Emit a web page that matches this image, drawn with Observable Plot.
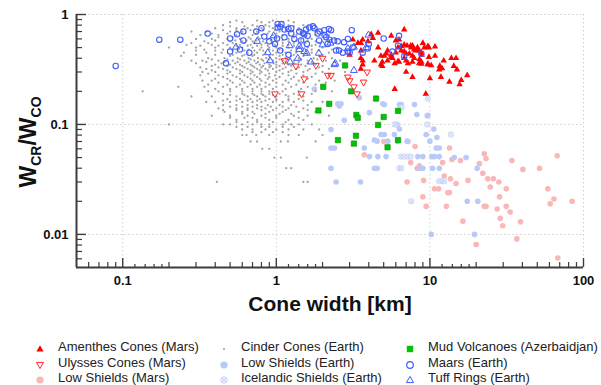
<!DOCTYPE html>
<html><head><meta charset="utf-8">
<script src="https://cdn.jsdelivr.net/npm/d3@7"></script>
<script src="https://cdn.jsdelivr.net/npm/@observablehq/plot@0.6"></script>
<style>
body{margin:0;background:#fff;font-family:"Liberation Sans",Arial,sans-serif;}
#wrap{position:relative;width:601px;height:385px;overflow:hidden;background:#fff;}
.lg{position:absolute;font-size:13px;color:#222;white-space:nowrap;line-height:16px;}
.sym{position:absolute;width:12px;height:12px;}
</style></head><body><div id="wrap"></div>
<script>
// ---------- axes ----------
const xDomain = [0.05, 100];
const yDomain = [0.005, 1];
const xMajor = [0.1, 1, 10, 100];
const xMinor = [0.06,0.07,0.08,0.09,0.2,0.3,0.4,0.5,0.6,0.7,0.8,0.9,2,3,4,5,6,7,8,9,20,30,40,50,60,70,80,90];
const xMinorShort = [0.12,0.14,0.16,0.18,1.2,1.4,1.6,1.8,12,14,16,18];
const yMajor = [0.01, 0.1, 1];
const yMinor = [0.006,0.007,0.008,0.009,0.02,0.03,0.04,0.05,0.06,0.07,0.08,0.09,0.2,0.3,0.4,0.5,0.6,0.7,0.8,0.9];

// ---------- data: [cone width km, Wcr/Wco] ----------
const amenthes = [[3.0,0.43],[3.15,0.59],[3.4,0.55],[3.55,0.55],[3.56,0.47],[3.65,0.59],[3.55,0.40],[3.65,0.35],[3.55,0.32],[3.65,0.38],[3.95,0.57],[4.15,0.66],[4.25,0.61],[4.35,0.38],[4.6,0.50],[4.6,0.68],[4.8,0.42],[4.8,0.35],[4.9,0.34],[4.9,0.37],[5.05,0.42],[5.2,0.44],[5.3,0.47],[5.3,0.38],[5.6,0.64],[5.6,0.43],[5.6,0.41],[5.7,0.40],[5.9,0.36],[5.9,0.21],[6.0,0.58],[6.0,0.45],[6.2,0.50],[6.2,0.375],[6.3,0.59],[6.3,0.37],[6.5,0.47],[6.5,0.515],[6.8,0.73],[6.8,0.53],[6.8,0.46],[6.8,0.40],[7.0,0.44],[7.0,0.38],[7.0,0.30],[7.1,0.52],[7.2,0.36],[7.35,0.44],[7.5,0.52],[7.55,0.50],[7.7,0.52],[7.7,0.42],[7.7,0.37],[7.7,0.27],[7.9,0.48],[7.9,0.40],[8.1,0.47],[8.3,0.50],[8.5,0.47],[8.5,0.36],[8.55,0.39],[8.8,0.45],[8.8,0.37],[8.8,0.356],[8.85,0.43],[9.0,0.55],[9.2,0.50],[9.4,0.19],[9.7,0.515],[9.7,0.356],[9.7,0.35],[9.85,0.50],[9.85,0.41],[10.0,0.262],[10.2,0.344],[10.8,0.51],[10.8,0.42],[11.5,0.316],[11.6,0.34],[11.8,0.27],[12.0,0.323],[12.3,0.38],[13.4,0.244],[13.8,0.40],[14.3,0.34],[14.8,0.40],[15.0,0.316],[15.6,0.231],[16.0,0.253],[17.5,0.28]];

const ulysses = [[0.98,0.19],[1.46,0.19],[1.34,0.34],[1.52,0.26],[1.81,0.345],[2.16,0.28],[2.27,0.28],[2.92,0.27],[3.0,0.25],[3.7,0.243],[3.9,0.30],[2.0,0.40],[3.2,0.22],[3.35,0.19],[1.13,0.38]];

const marsShields = [[13.4,0.061],[12.1,0.045],[13.9,0.048],[15.8,0.047],[12.4,0.034],[13.6,0.032],[10.7,0.026],[11.4,0.026],[13.1,0.024],[13.4,0.024],[14.8,0.029],[17.7,0.031],[12.8,0.018],[16.4,0.0132],[22.6,0.054],[23.2,0.049],[21.0,0.044],[22.1,0.036],[23.8,0.032],[25.9,0.032],[28.1,0.030],[24.7,0.027],[31.4,0.026],[28.4,0.022],[22.6,0.018],[23.2,0.018],[31.4,0.018],[27.4,0.017],[33.3,0.016],[28.7,0.014],[29.8,0.012],[34.2,0.047],[40.3,0.039],[51.7,0.040],[67.4,0.052],[58.6,0.026],[64.2,0.021],[60.7,0.019],[84.4,0.020],[38.9,0.013],[36.8,0.0091],[20.0,0.0081],[68.1,0.0061],[3.74,0.053],[7.5,0.045],[8.55,0.042],[8.26,0.040],[9.1,0.031],[9.0,0.022],[9.45,0.018],[7.1,0.030],[5.0,0.070],[8.0,0.063],[7.2,0.070]];

const earthShields = [[2.27,0.061],[2.39,0.061],[3.74,0.061],[4.04,0.051],[4.58,0.051],[4.35,0.040],[4.53,0.040],[5.18,0.051],[2.27,0.040],[2.45,0.030],[3.53,0.030],[4.81,0.081],[5.05,0.081],[5.87,0.081],[4.53,0.0705],[5.32,0.0705],[6.18,0.0705],[7.1,0.0705],[8.34,0.051],[9.0,0.051],[8.55,0.040],[9.0,0.040],[9.45,0.081],[10.0,0.0705],[11.1,0.076],[11.5,0.061],[11.0,0.061],[10.3,0.051],[10.7,0.051],[11.5,0.051],[10.4,0.040],[11.5,0.040],[14.4,0.050],[17.2,0.050],[20.3,0.040],[17.5,0.020],[20.5,0.020],[19.5,0.010],[10.2,0.010],[1.77,0.21],[2.51,0.154],[2.64,0.154],[2.57,0.147],[2.77,0.109],[3.47,0.175],[4.04,0.128],[4.93,0.154],[5.05,0.152],[6.33,0.152],[6.5,0.152],[7.93,0.152],[8.22,0.123],[9.7,0.121],[6.11,0.10],[2.27,0.09],[10.6,0.091],[6.33,0.091],[4.35,0.072],[9.6,0.12]];

const iceShields = [[6.5,0.051],[6.8,0.051],[7.2,0.051],[7.5,0.051],[7.55,0.020],[13.7,0.081],[11.5,0.0305],[12.1,0.0305],[12.4,0.0305],[9.7,0.171],[9.6,0.10],[6.0,0.10],[5.9,0.10],[6.56,0.142],[6.33,0.040],[6.5,0.040]];

const mud = [[2.8,0.344],[2.02,0.22],[3.07,0.20],[2.21,0.154],[1.88,0.134],[4.46,0.172],[3.32,0.122],[3.39,0.115],[5.0,0.117],[6.2,0.133],[4.6,0.099],[3.3,0.079],[2.52,0.072],[3.2,0.067],[5.3,0.062],[6.2,0.072]];

const maars = [[0.09,0.34],[0.173,0.59],[0.237,0.59],[0.357,0.67],[0.47,0.36],[0.50,0.605],[0.50,0.46],[0.555,0.66],[0.58,0.48],[0.61,0.70],[0.61,0.58],[0.667,0.45],[0.74,0.70],[0.80,0.75],[0.835,0.63],[0.90,0.57],[0.98,0.54],[1.01,0.605],[1.02,0.76],[1.02,0.82],[1.06,0.47],[1.08,0.82],[1.06,0.77],[1.13,0.62],[1.13,0.73],[1.2,0.74],[1.2,0.43],[1.25,0.67],[1.25,0.75],[1.31,0.60],[1.41,0.70],[1.45,0.58],[1.49,0.68],[1.52,0.66],[1.56,0.73],[1.58,0.54],[1.6,0.64],[1.64,0.76],[1.73,0.78],[1.77,0.75],[1.86,0.67],[1.9,0.58],[1.91,0.70],[2.05,0.72],[2.06,0.65],[2.11,0.62],[2.16,0.54],[2.2,0.74],[2.22,0.59],[2.27,0.72],[2.38,0.58],[2.45,0.47],[2.51,0.57],[2.56,0.47],[2.71,0.45],[2.76,0.56],[2.92,0.60],[2.92,0.46],[3.0,0.45],[3.1,0.72],[3.14,0.50],[3.65,0.45],[3.94,0.49],[4.0,0.54],[5.0,0.605],[5.7,0.46],[6.2,0.52],[6.3,0.64],[6.8,0.415],[8.8,0.44]];

const tuff = [[0.546,0.505],[0.75,0.57],[0.88,0.45],[0.91,0.38],[0.96,0.64],[1.22,0.52],[1.41,0.48],[1.23,0.37],[1.58,0.445],[1.89,0.445],[2.0,0.53],[1.68,0.37],[2.42,0.36],[3.2,0.31],[3.2,0.505],[2.25,0.55],[2.92,0.49],[1.41,0.515],[1.52,0.46],[1.38,0.40],[2.39,0.35],[3.84,0.50],[3.98,0.65]];

// cinder cones: rows of [ratio, widths]
const cinderRows = [
 [0.88,[0.55,0.75,0.95,1.2]],
 [0.85,[0.5,0.6,0.8,0.9,1.1,1.3]],
 [0.8,[0.45,0.7,0.85,1.0,1.2,1.5]],
 [0.78,[0.5,0.62,0.75,0.9,1.05,1.3,1.6]],
 [0.75,[0.4,0.55,0.65,0.8,0.95,1.15,1.4,1.7]],
 [0.72,[0.45,0.55,0.68,0.82,0.98,1.15,1.4,1.8]],
 [0.7,[0.28,0.35,0.5,0.6,0.75,0.9,1.05,1.25,1.6,2.0]],
 [0.67,[0.38,0.48,0.6,0.74,0.88,1.0,1.2,1.5,2.0]],
 [0.65,[0.32,0.42,0.55,0.7,0.8,0.95,1.1,1.35,1.8,2.2]],
 [0.62,[0.42,0.52,0.66,0.76,0.92,1.05,1.3,1.55]],
 [0.6,[0.3,0.38,0.48,0.58,0.68,0.78,0.88,1.0,1.2,1.45,1.7,2.4]],
 [0.58,[0.4,0.54,0.64,0.74,0.92,1.1,1.35,1.6,2.2]],
 [0.57,[0.34,0.5,0.6,0.7,0.82,1.0,1.2,1.45,1.8]],
 [0.55,[0.28,0.36,0.45,0.52,0.62,0.72,0.85,0.95,1.1,1.3,1.55,1.9]],
 [0.53,[0.26,0.38,0.48,0.58,0.68,0.8,0.98,1.2,1.45,1.8]],
 [0.52,[0.32,0.42,0.55,0.65,0.75,0.88,1.1,1.3,1.7,2.1]],
 [0.5,[0.2,0.3,0.4,0.5,0.6,0.7,0.8,0.9,1.0,1.2,1.4,1.6,2.0,2.5]],
 [0.48,[0.34,0.45,0.56,0.66,0.78,0.9,1.05,1.35,1.7,2.3]],
 [0.47,[0.3,0.4,0.52,0.62,0.72,0.82,0.95,1.1,1.25,1.5,1.9]],
 [0.45,[0.25,0.35,0.44,0.55,0.65,0.75,0.85,1.0,1.15,1.35,1.7,2.2]],
 [0.43,[0.3,0.4,0.52,0.62,0.72,0.82,0.95,1.1,1.3,1.6,2.0]],
 [0.42,[0.24,0.5,0.6,0.7,0.9,1.05,1.25,1.5,1.9]],
 [0.4,[0.36,0.46,0.56,0.66,0.76,0.86,1.0,1.15,1.4,1.75,2.3]],
 [0.39,[0.38,0.48,0.58,0.68,0.8,0.9,1.05,1.2,1.45,1.85]],
 [0.38,[0.28,0.33,0.42,0.52,0.62,0.72,0.82,0.95,1.1,1.3,1.6,2.1,2.6]],
 [0.37,[0.35,0.46,0.56,0.66,0.76,0.88,1.0,1.15,1.4,1.7,2.4]],
 [0.36,[0.3,0.44,0.54,0.64,0.74,0.84,0.96,1.1,1.3,1.6]],
 [0.35,[0.4,0.5,0.58,0.68,0.78,0.9,1.0,1.2,1.45,1.8]],
 [0.34,[0.38,0.48,0.6,0.7,0.82,0.92,1.05,1.25,1.55,2.0]],
 [0.33,[0.32,0.42,0.52,0.62,0.72,0.8,0.9,1.0,1.15,1.4,1.9]],
 [0.32,[0.35,0.45,0.55,0.65,0.75,0.85,0.95,1.1,1.35,1.65,2.2]],
 [0.31,[0.38,0.48,0.58,0.68,0.78,0.88,1.05,1.25,1.6]],
 [0.3,[0.33,0.4,0.5,0.6,0.7,0.8,1.0,1.2,1.5,2.0,2.8]],
 [0.29,[0.36,0.48,0.58,0.68,0.78,0.9,1.1,1.35,1.8]],
 [0.28,[0.32,0.42,0.52,0.62,0.72,0.85,0.98,1.2,1.5,2.2]],
 [0.27,[0.45,0.55,0.65,0.75,0.9,1.05,1.3,1.7]],
 [0.26,[0.4,0.48,0.58,0.68,0.78,0.88,1.0,1.25,1.6]],
 [0.25,[0.33,0.38,0.5,0.6,0.7,0.8,0.95,1.15,1.4,1.9,2.4]],
 [0.24,[0.42,0.52,0.62,0.72,0.85,1.0,1.2,1.5,2.1]],
 [0.23,[0.36,0.48,0.58,0.68,0.78,0.9,1.1,1.35,1.8]],
 [0.22,[0.23,0.34,0.45,0.55,0.65,0.75,0.85,1.0,1.25,1.6]],
 [0.21,[0.4,0.5,0.6,0.7,0.8,0.95,1.15,1.45]],
 [0.2,[0.135,0.36,0.42,0.5,0.6,0.7,0.8,0.9,1.1,1.4,1.8,2.3]],
 [0.19,[0.45,0.6,0.7,0.8,0.9,1.05,1.3,1.7]],
 [0.185,[0.5,0.62,0.72,0.82,0.95,1.15,1.4]],
 [0.18,[0.28,0.38,0.55,0.65,0.75,0.85,1.0,1.2,1.5]],
 [0.17,[0.48,0.58,0.68,0.78,0.9,1.0,1.2,1.4]],
 [0.165,[0.45,0.55,0.65,0.75,0.85,1.0,1.2,1.5]],
 [0.16,[0.35,0.4,0.5,0.6,0.7,0.8,0.95,1.1,1.3,1.7,2.0]],
 [0.15,[0.45,0.55,0.65,0.75,0.88,1.05,1.25,1.6]],
 [0.145,[0.5,0.6,0.7,0.8,0.92,1.1,1.35]],
 [0.14,[0.42,0.55,0.65,0.75,0.85,1.0,1.2,1.5]],
 [0.135,[0.45,0.55,0.65,0.8,0.95,1.15,1.6]],
 [0.13,[0.46,0.6,0.7,0.9,1.1,1.4,1.8]],
 [0.125,[0.6,0.72,0.85,1.05,1.25]],
 [0.12,[0.38,0.5,0.65,0.8,1.0,1.3,1.6,2.2]],
 [0.115,[0.5,0.62,0.7,0.85,1.0,1.4]],
 [0.11,[0.55,0.75,0.9,1.2,1.5]],
 [0.105,[0.55,0.65,0.75,0.95,1.15]],
 [0.1,[0.2,0.45,0.5,0.6,0.7,0.8,0.9,1.1,1.25,1.4,1.7]],
 [0.095,[0.55,0.65,0.8,0.9,1.1,1.3]],
 [0.09,[0.6,0.7,0.85,1.0,1.2,1.5,1.9]],
 [0.085,[0.7,0.8,0.95,1.1]],
 [0.08,[0.6,0.64,0.74,0.9,1.2,1.4,2.0]],
 [0.07,[0.68,0.75,1.07,1.19,1.8]],
 [0.06,[0.81,0.9]],
 [0.05,[0.97,1.07,1.58]],
 [0.04,[1.16,1.25]],
 [0.03,[0.41,1.5,1.6]]
];

const legendLabels = [
 ["Amenthes Cones (Mars)","Ulysses Cones (Mars)","Low Shields (Mars)"],
 ["Cinder Cones (Earth)","Low Shields (Earth)","Icelandic Shields (Earth)"],
 ["Mud Volcanoes (Azerbaidjan)","Maars (Earth)","Tuff Rings (Earth)"]
];

// ---------- drawing ----------
const cinder = cinderRows.flatMap(([y, ws]) => ws.map(x => [x, y]));
const X = d => d[0], Y = d => d[1];
const axisColor = "#3c3c3c";
const blue = "#3f5eff";
const triDown = {draw(ctx, size){const y = Math.sqrt(size/(Math.sqrt(3)*3)); ctx.moveTo(0, 2*y); ctx.lineTo(-Math.sqrt(3)*y, -y); ctx.lineTo(Math.sqrt(3)*y, -y); ctx.closePath();}};

const chart = Plot.plot({
  width: 601, height: 322,
  marginTop: 14, marginRight: 18, marginBottom: 55, marginLeft: 76,
  style: {fontFamily: '"Liberation Sans", Arial, sans-serif', background: "#fff", color: "#000"},
  x: {type: "log", domain: xDomain},
  y: {type: "log", domain: yDomain},
  marks: [
    Plot.ruleX(xMajor, {stroke: "#cfcfcf", strokeDasharray: "1.5,2.5"}),
    Plot.ruleY(yMajor, {stroke: "#cfcfcf", strokeDasharray: "1.5,2.5"}),
    Plot.dot(marsShields, {x: X, y: Y, r: 2.8, fill: "#f9b7b7"}),
    Plot.dot(earthShields, {x: X, y: Y, r: 2.8, fill: "#bacaf8"}),
    Plot.dot(iceShields, {x: X, y: Y, r: 2.7, fill: "#eef2fe", stroke: "#c3d0f7", strokeWidth: 0.8}),
    Plot.dot(iceShields, {x: X, y: Y, r: 1.9, symbol: "times", stroke: "#c3d0f7", strokeWidth: 0.8}),
    Plot.dot(cinder, {x: X, y: Y, r: 1.15, fill: "#a3a3a3"}),
    Plot.dot(mud, {x: X, y: Y, r: 3, symbol: "square", fill: "#00c400", stroke: "#008a00", strokeWidth: 0.6}),
    Plot.dot(amenthes, {x: X, y: Y, r: 2.4, symbol: "triangle", fill: "#ff0000"}),
    Plot.dot(ulysses, {x: X, y: Y, r: 2.5, symbol: triDown, fill: "none", stroke: "#ff2a2a", strokeWidth: 1}),
    Plot.dot(maars, {x: X, y: Y, r: 2.7, fill: "none", stroke: blue, strokeWidth: 1.1}),
    Plot.dot(tuff, {x: X, y: Y, r: 2.6, symbol: "triangle", fill: "none", stroke: blue, strokeWidth: 1}),
    Plot.ruleY([yDomain[0]], {stroke: axisColor, strokeWidth: 2}),
    Plot.ruleX([xDomain[0]], {stroke: axisColor, strokeWidth: 2}),
    Plot.axisX(xMajor, {anchor: "bottom", tickSize: 9, dy: -9, fill: "none", stroke: axisColor, strokeWidth: 1.4, label: null}),
    Plot.axisX(xMinor, {anchor: "bottom", tickSize: 5, dy: -5, fill: "none", stroke: axisColor, strokeWidth: 1.2, label: null}),
    Plot.axisX(xMinorShort, {anchor: "bottom", tickSize: 3, dy: -3, fill: "none", stroke: axisColor, strokeWidth: 1.2, label: null}),
    Plot.axisX(xMajor, {anchor: "bottom", tickSize: 0, tickPadding: 8, fontSize: 13, fontWeight: "bold", fill: "#111", tickFormat: d => String(d), label: null}),
    Plot.axisY(yMajor, {anchor: "left", tickSize: 10, dx: 10, fill: "none", stroke: axisColor, strokeWidth: 1.4, label: null}),
    Plot.axisY(yMinor, {anchor: "left", tickSize: 6, dx: 6, fill: "none", stroke: axisColor, strokeWidth: 1.2, label: null}),
    Plot.axisY(yMajor, {anchor: "left", tickSize: 0, tickPadding: 8, fontSize: 13, fontWeight: "bold", fill: "#111", tickFormat: d => String(d), label: null}),
    Plot.text(["Cone width [km]"], {frameAnchor: "bottom", dy: 43, fontSize: 21, fontWeight: "bold", fill: "#111"})
  ]
});

// y-axis title with subscripts
const t = d3.select(chart).append("text")
  .attr("transform", "translate(36,142) rotate(-90)")
  .attr("text-anchor", "middle").attr("font-size", 23).attr("font-weight", "bold")
  .attr("fill", "#111").attr("font-family", '"Liberation Sans", Arial, sans-serif');
t.append("tspan").text("W");
t.append("tspan").attr("font-size", 14).attr("dy", 5).text("CR");
t.append("tspan").attr("dy", -5).text("/W");
t.append("tspan").attr("font-size", 14).attr("dy", 5).text("CO");

const wrap = document.getElementById("wrap");
chart.style.position = "absolute"; chart.style.left = "0"; chart.style.top = "0";
wrap.appendChild(chart);

// legend
const symSvg = [
 ['<path d="M6,2.3 L9.6,8.6 L2.4,8.6Z" fill="#ff0000"/>',
  '<path d="M6,9.6 L2.5,3.4 L9.5,3.4Z" fill="none" stroke="#ff2a2a" stroke-width="1"/>',
  '<circle cx="6" cy="6" r="3.6" fill="#f9b7b7"/>'],
 ['<circle cx="6" cy="6" r="1.1" fill="#a5a5a5"/>',
  '<circle cx="6" cy="6" r="3.6" fill="#bacaf8"/>',
  '<circle cx="6" cy="6" r="3.3" fill="#eef2fe" stroke="#c3d0f7" stroke-width="0.9"/><path d="M4,4L8,8M8,4L4,8" stroke="#c3d0f7" stroke-width="0.9"/>'],
 ['<rect x="2.8" y="2.8" width="6.4" height="6.4" fill="#00c400"/>',
  '<circle cx="6" cy="6" r="3.3" fill="none" stroke="' + blue + '" stroke-width="1.2"/>',
  '<path d="M6,2.4 L9.6,8.6 L2.4,8.6Z" fill="none" stroke="' + blue + '" stroke-width="1"/>']
];
const colSym = [40, 224, 410], colText = [58, 241, 428], rowY = [347, 362.5, 378];
legendLabels.forEach((col, c) => col.forEach((lab, r) => {
  const s = document.createElement("div");
  s.className = "sym"; s.style.left = (colSym[c] - 6) + "px"; s.style.top = (rowY[r] - 6) + "px";
  s.innerHTML = '<svg width="12" height="12" viewBox="0 0 12 12">' + symSvg[c][r] + '</svg>';
  wrap.appendChild(s);
  const d = document.createElement("div");
  d.className = "lg"; d.style.left = colText[c] + "px"; d.style.top = (rowY[r] - 8) + "px";
  d.textContent = lab;
  wrap.appendChild(d);
}));
</script></body></html>
